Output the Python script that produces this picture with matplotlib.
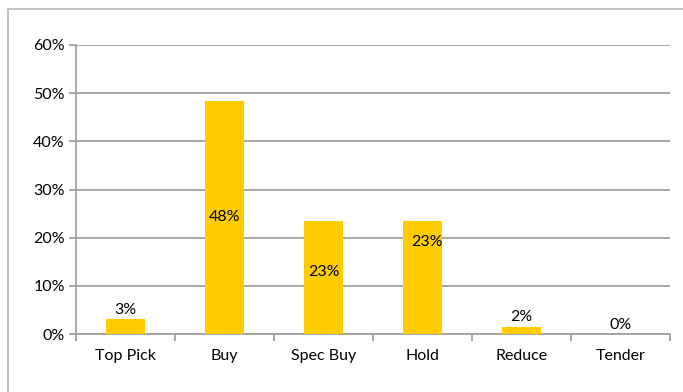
import numpy as np
import matplotlib.pyplot as plt
from matplotlib.patches import Rectangle

plt.rcParams['font.family'] = ['Lato', 'DejaVu Sans']

categories = ['Top Pick', 'Buy', 'Spec Buy', 'Hold', 'Reduce', 'Tender']
values = [3.1, 48.4, 23.4, 23.4, 1.5, 0.0]
labels = ['3%', '48%', '23%', '23%', '2%', '0%']
# where Excel dropped each label: 'top' = above bar, else fraction of bar height
label_pos = ['top', 0.5, 0.55, 0.82, 'top', 'top']
label_dx = [0, 0, 0, 0.05, 0, 0]

grey = '#A0A0A0'
fs = 11.5

fig = plt.figure(figsize=(6.83, 3.92), dpi=100)
ax = fig.add_axes([76 / 683, 1 - 334 / 392, 594 / 683, 289 / 392])

x = np.arange(len(categories))
ax.bar(x, values, width=0.4, color='#FFCC00', zorder=3)

for i, (v, lab, p) in enumerate(zip(values, labels, label_pos)):
    if p == 'top':
        ax.text(x[i], v + 0.5, lab, ha='center', va='bottom', fontsize=fs, zorder=4)
    else:
        ax.text(x[i] + label_dx[i], v * p, lab, ha='center', va='center', fontsize=fs, zorder=4)

ax.set_xlim(-0.5, len(categories) - 0.5)
ax.set_ylim(0, 60)
ax.set_yticks(np.arange(0, 61, 10))
ax.set_yticklabels([f'{t}%' for t in range(0, 61, 10)], fontsize=fs)
ax.yaxis.grid(True, color=grey, linewidth=1.3, zorder=0)

ax.set_xticks(x)
ax.set_xticklabels(categories, fontsize=fs)
ax.tick_params(axis='x', length=0, pad=11)
ax.set_xticks(np.arange(-0.5, len(categories)), minor=True)
ax.tick_params(axis='x', which='minor', length=5, color=grey, width=1.3)
ax.tick_params(axis='y', length=5, color=grey, width=1.3, pad=3)

for s in ['top', 'right']:
    ax.spines[s].set_visible(False)
for s in ['left', 'bottom']:
    ax.spines[s].set_color(grey)
    ax.spines[s].set_linewidth(1.3)

# chart frame, clipped on right/bottom like the source screenshot
fig.patches.append(Rectangle((8 / 683, -0.1), 1.2, 1 - 9 / 392 + 0.1,
                             transform=fig.transFigure, fill=False,
                             edgecolor='#B8B8B8', linewidth=1.2))

fig.savefig('out.png', dpi=100)
